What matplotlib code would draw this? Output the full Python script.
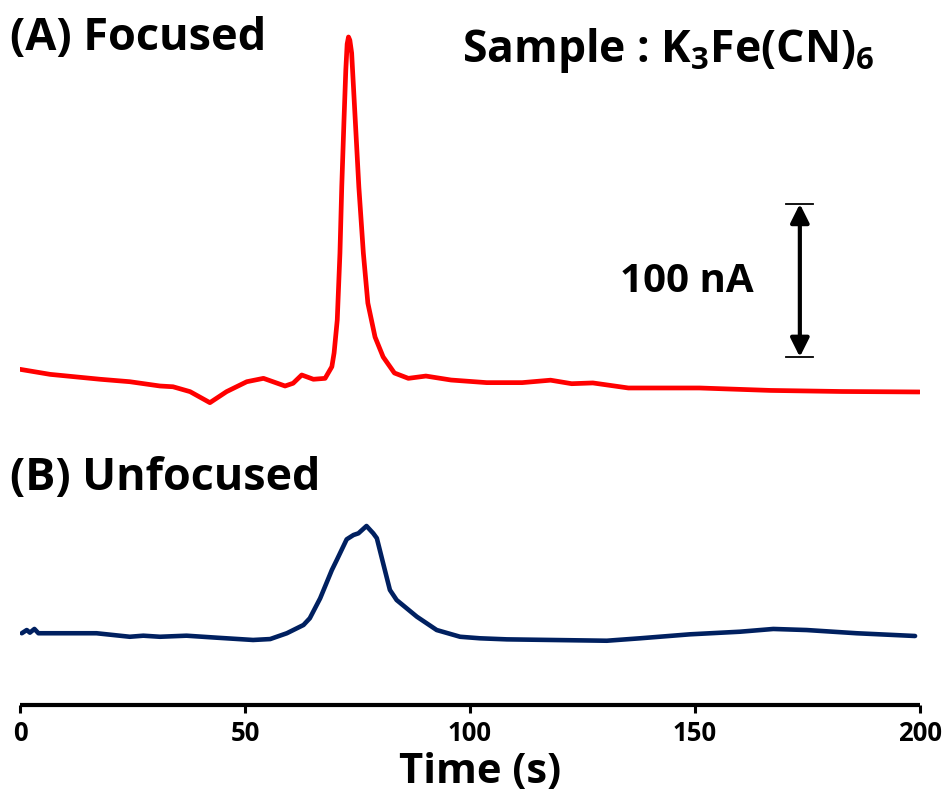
import matplotlib
matplotlib.use("Agg")
import matplotlib.pyplot as plt

plt.rcParams['font.family'] = ['Open Sans', 'DejaVu Sans']
plt.rcParams['font.weight'] = 'bold'
plt.rcParams['mathtext.fontset'] = 'custom'
plt.rcParams['mathtext.rm'] = 'Open Sans:bold'
plt.rcParams['mathtext.it'] = 'Open Sans:bold'
plt.rcParams['mathtext.bf'] = 'Open Sans:bold'

# ---- data (time in s, current in nA, arbitrary offset) ----
focused_t = [0.0, 6.7, 17.8, 24.4, 31.1, 34.0, 37.8, 42.2, 45.9, 50.4, 54.1, 58.9,
             60.7, 62.6, 65.2, 67.8, 69.3, 69.8, 70.5, 71.1, 71.5, 72.0, 72.4, 72.7, 73.0,
             73.3, 73.7, 74.5, 75.3, 76.3, 77.3, 78.9, 80.7, 83.2, 86.3, 90.2, 95.8, 103.7,
             111.6, 117.9, 122.6, 127.3, 135.2, 151.0, 166.8, 182.6, 199.9]
focused_i = [219.4, 216.1, 212.9, 211.3, 208.5, 208.0, 204.8, 197.6, 204.8, 211.3, 213.5, 208.5,
             210.3, 215.7, 212.9, 213.5, 221.1, 230.1, 251.6, 295.4, 338.6, 382.4, 415.0, 432.0, 436.6,
             434.5, 426.1, 382.4, 338.6, 295.4, 262.7, 240.5, 227.5, 217.0, 213.5, 215.0, 212.4, 210.7,
             210.7, 212.3, 210.0, 210.5, 207.2, 207.2, 205.6, 204.9, 204.6]

unfocused_t = [0.4, 1.5, 2.2, 3.2, 4.1, 10.4, 17.0, 24.4, 27.4, 31.1, 37.0, 43.7, 51.8,
               55.6, 59.3, 63.0, 64.4, 66.7, 69.3, 70.4, 72.6, 74.1, 75.2, 77.0, 78.5,
               79.3, 80.7, 82.2, 83.7, 88.2, 92.6, 97.8, 102.2, 108.2, 130.4, 137.8,
               148.9, 160.0, 167.4, 174.8, 185.9, 198.9]
unfocused_i = [46.9, 49.0, 47.3, 49.7, 46.9, 46.9, 46.9, 44.6, 45.3, 44.6, 45.3, 44.0, 42.5,
               43.1, 46.9, 52.3, 56.7, 69.7, 88.2, 94.8, 108.3, 111.1, 112.2, 117.0, 112.2,
               109.0, 92.6, 75.2, 68.6, 57.7, 49.0, 44.6, 43.6, 42.9, 42.0, 43.6,
               46.2, 47.9, 49.7, 49.0, 46.9, 45.1]

xticks = [0, 50, 100, 150, 200]
scale_x = 173.3
scale_low, scale_len = 227.5, 100.0

W, H = 949, 793
fig = plt.figure(figsize=(W / 100, H / 100), dpi=100)
ax = fig.add_axes([20 / W, 88 / H, 900 / W, 705 / H])
ax.set_xlim(0, 200)
ax.set_ylim(0, 705 / 1.53)

ax.plot(focused_t, focused_i, color='#FF0000', lw=3.4, solid_joinstyle='round', solid_capstyle='round')
ax.plot(unfocused_t, unfocused_i, color='#002060', lw=3.3, solid_joinstyle='round', solid_capstyle='round')

for s in ['left', 'top', 'right']:
    ax.spines[s].set_visible(False)
ax.spines['bottom'].set_linewidth(3)
ax.spines['bottom'].set_capstyle('butt')
ax.set_yticks([])
ax.set_xticks(xticks)
ax.set_xticklabels([str(v) for v in xticks])
ax.tick_params(axis='x', direction='out', length=6, width=2.2, pad=5, labelsize=18.5)
for lab in ax.get_xticklabels():
    lab.set_fontweight('bold')

# scale bar
ax.annotate('', xy=(scale_x, scale_low + scale_len), xytext=(scale_x, scale_low),
            arrowprops=dict(arrowstyle='<|-|>', lw=3, color='black',
                            mutation_scale=28, shrinkA=0, shrinkB=0))
for yy in [scale_low, scale_low + scale_len]:
    ax.plot([scale_x - 3.0, scale_x + 3.0], [yy, yy], color='black', lw=1.3)

fig.text(10 / W, 1 - 50 / H, '(A) Focused', fontsize=32.5, fontweight='bold', va='baseline', ha='left')
fig.text(10 / W, 1 - 490 / H, '(B) Unfocused', fontsize=32.3, fontweight='bold', va='baseline', ha='left')
fig.text(462 / W, 1 - 62 / H, r'Sample : K$_3$Fe(CN)$_6$', fontsize=32, fontweight='bold', va='baseline', ha='left')
fig.text(620 / W, 1 - 292 / H, '100 nA', fontsize=29, fontweight='bold', va='baseline', ha='left')
fig.text(480 / W, 1 - 783 / H, 'Time (s)', fontsize=30, fontweight='bold', va='baseline', ha='center')

fig.savefig('out.png', dpi=100)
